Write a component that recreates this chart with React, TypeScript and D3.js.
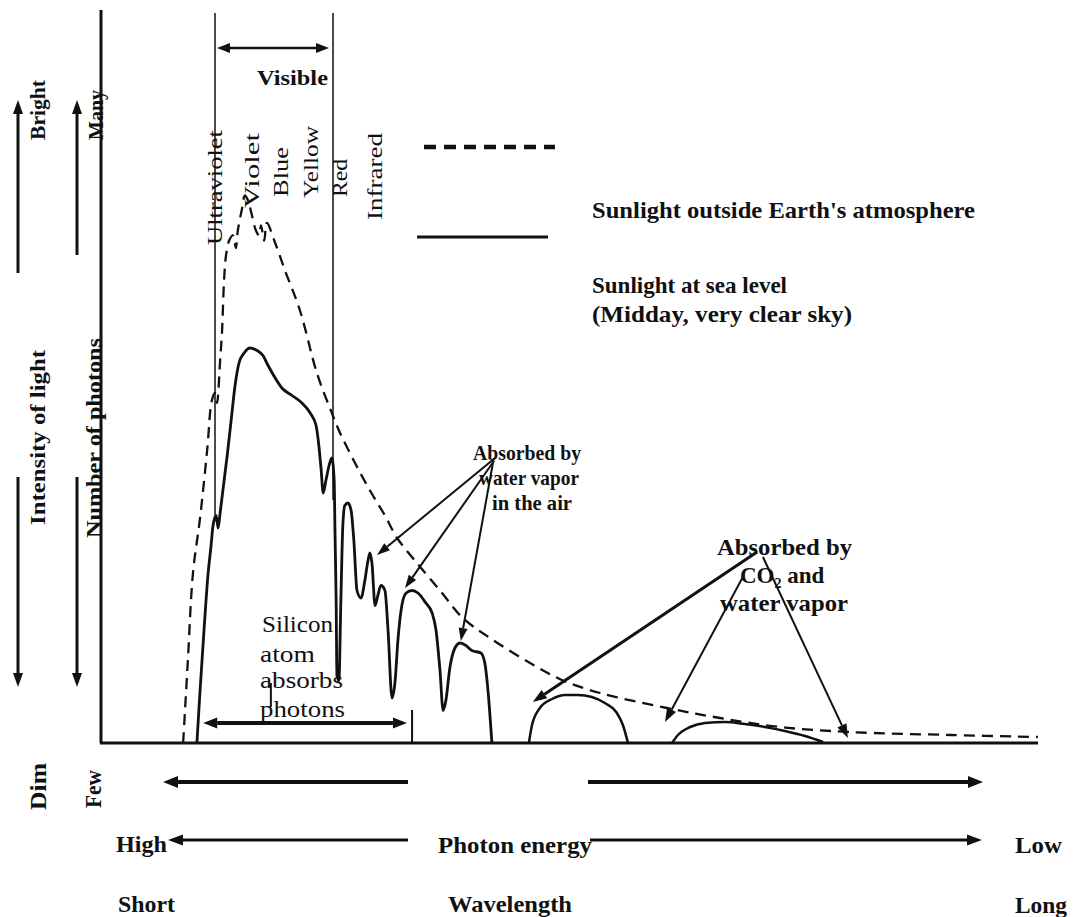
import React from 'react';
import * as d3 from 'd3';

// ---- Data (wavelength in nm, relative spectral intensity) ----
const outsideNm = [319, 331, 344, 362, 380, 392, 400, 405, 413, 418, 423, 428, 436, 446, 453, 458, 469, 476, 484, 494, 504, 512, 517, 525, 532, 553, 578, 616, 659, 692, 718, 756, 794, 832, 863, 908, 972, 1030, 1099, 1201, 1285, 1379, 1549, 1684, 1836, 2014, 2269, 2492];
const outsideVal = [0, 0.33, 0.68, 0.9, 1.17, 1.37, 1.40, 1.36, 1.53, 1.65, 1.85, 1.95, 2.01, 2.03, 1.98, 2.05, 2.14, 2.19, 2.17, 2.11, 2.05, 2.03, 2.07, 2.01, 2.08, 2.0, 1.89, 1.73, 1.48, 1.34, 1.24, 1.12, 1.01, 0.91, 0.82, 0.73, 0.61, 0.50, 0.42, 0.32, 0.25, 0.20, 0.14, 0.10, 0.064, 0.044, 0.032, 0.024];

const seaBand1Nm = [354, 362, 372, 382, 390, 395, 403, 408, 413, 420, 431, 441, 451, 461, 474, 489, 507, 522, 535, 553, 570, 596, 621, 642, 657, 664, 670, 675, 682, 690, 697, 703, 705, 708, 710, 715, 720, 725, 730, 738, 746, 753, 761, 771, 781, 789, 794, 799, 807, 814, 822, 832, 840, 850, 858, 865, 875, 886, 901, 916, 936, 952, 962, 972, 980, 987, 997, 1010, 1023, 1038, 1053, 1076, 1086, 1094, 1104];
const seaBand1Val = [0, 0.21, 0.45, 0.67, 0.79, 0.87, 0.91, 0.86, 0.92, 1.01, 1.15, 1.29, 1.43, 1.52, 1.56, 1.58, 1.57, 1.55, 1.51, 1.46, 1.42, 1.39, 1.36, 1.32, 1.27, 1.19, 1.09, 1.0, 1.05, 1.11, 1.14, 1.05, 0.85, 0.57, 0.27, 0.25, 0.57, 0.87, 0.95, 0.96, 0.93, 0.81, 0.61, 0.58, 0.65, 0.73, 0.76, 0.72, 0.55, 0.59, 0.63, 0.61, 0.45, 0.18, 0.25, 0.41, 0.55, 0.60, 0.61, 0.60, 0.56, 0.52, 0.45, 0.29, 0.13, 0.17, 0.30, 0.38, 0.40, 0.39, 0.37, 0.36, 0.32, 0.21, 0];
const seaBand2Nm = [1198, 1206, 1226, 1257, 1290, 1323, 1358, 1391, 1420, 1437, 1450];
const seaBand2Val = [0, 0.072, 0.14, 0.176, 0.192, 0.192, 0.184, 0.16, 0.124, 0.072, 0];
const seaBand3Nm = [1562, 1577, 1608, 1646, 1697, 1747, 1798, 1849, 1900, 1946];
const seaBand3Val = [0, 0.032, 0.064, 0.08, 0.084, 0.076, 0.064, 0.048, 0.028, 0.004];

// annotation arrows: [fromNm, fromVal, toNm, toVal]
const waterArrows = [
  [1112, 1.14, 812, 0.752],
  [1110, 1.13, 883, 0.62],
  [1107, 1.124, 1025, 0.408],
];
const co2Arrows = [
  [1778, 0.764, 1208, 0.164],
  [1742, 0.664, 1544, 0.084],
  [1793, 0.744, 2009, 0.02],
];
const visibleRange = [400, 700];
const siliconRange = [370, 888];
const bandLabels = ['Ultraviolet', 'Violet', 'Blue', 'Yellow', 'Red', 'Infrared'];

const FONT = "'Liberation Serif', 'Times New Roman', Times, serif";
const INK = '#111';

const x = d3.scaleLinear().domain([100, 2500]).range([97, 1041]);
const y = d3.scaleLinear().domain([0, 2.5]).range([743, 118]);

function head(x1: number, y1: number, x2: number, y2: number, len: number, w: number) {
  const a = Math.atan2(y2 - y1, x2 - x1);
  const bx = x2 - len * Math.cos(a);
  const by = y2 - len * Math.sin(a);
  const px = -Math.sin(a) * w / 2;
  const py = Math.cos(a) * w / 2;
  return { pts: `${x2},${y2} ${bx + px},${by + py} ${bx - px},${by - py}`, bx, by };
}

function Arrow({ x1, y1, x2, y2, sw = 2, len = 13, w = 9, both = false }: any) {
  const h = head(x1, y1, x2, y2, len, w);
  const h2 = both ? head(x2, y2, x1, y1, len, w) : null;
  return (
    <g>
      <line x1={h2 ? h2.bx : x1} y1={h2 ? h2.by : y1} x2={h.bx} y2={h.by} stroke={INK} strokeWidth={sw} />
      <polygon points={h.pts} fill={INK} />
      {h2 && <polygon points={h2.pts} fill={INK} />}
    </g>
  );
}

function T({ x: tx, y: ty, len, size = 21, bold = true, rot = false, children }: any) {
  return (
    <text
      x={rot ? 0 : tx}
      y={rot ? 0 : ty}
      transform={rot ? `translate(${tx},${ty}) rotate(-90)` : undefined}
      fontSize={size}
      fontWeight={bold ? 700 : 400}
      textLength={len}
      lengthAdjust="spacingAndGlyphs"
      fontFamily={FONT}
      fill={INK}
    >
      {children}
    </text>
  );
}

export default function App() {
  const dashedLine = d3.line<number>().x((d, i) => x(outsideNm[i])).y((d) => y(d)).curve(d3.curveCatmullRom.alpha(0.5));
  const mk = (nm: number[]) => d3.line<number>().x((d, i) => x(nm[i])).y((d) => y(d)).curve(d3.curveMonotoneX);

  const xv0 = x(visibleRange[0]);
  const xv1 = x(visibleRange[1]);

  return (
    <svg width={1076} height={917} style={{ position: 'absolute', left: 0, top: 0, background: '#fff' }}>
      <rect width={1076} height={917} fill="#fff" />

      {/* axes */}
      <line x1={101} y1={10} x2={101} y2={y(0)} stroke={INK} strokeWidth={3} />
      <line x1={100} y1={y(0)} x2={1038} y2={y(0)} stroke={INK} strokeWidth={3} />

      {/* visible boundaries */}
      <line x1={xv0} y1={13} x2={xv0} y2={515} stroke={INK} strokeWidth={1.5} />
      <line x1={xv1} y1={13} x2={xv1} y2={500} stroke={INK} strokeWidth={1.5} />
      <Arrow x1={xv0 + 2} y1={48} x2={xv1 - 4} y2={48} sw={2.5} len={13} w={10} both />
      <T x={257} y={85} len={71} size={22}>Visible</T>

      {/* band labels (rotated) */}
      <T x={222} y={245} len={115} size={21} bold={false} rot>{bandLabels[0]}</T>
      <T x={259} y={208} len={75} size={21} bold={false} rot>{bandLabels[1]}</T>
      <T x={288} y={197} len={50} size={21} bold={false} rot>{bandLabels[2]}</T>
      <T x={318} y={198} len={72} size={21} bold={false} rot>{bandLabels[3]}</T>
      <T x={347} y={197} len={38} size={21} bold={false} rot>{bandLabels[4]}</T>
      <T x={382} y={220} len={87} size={21} bold={false} rot>{bandLabels[5]}</T>

      {/* spectra */}
      <path d={dashedLine(outsideVal) || ''} fill="none" stroke={INK} strokeWidth={2.3} strokeDasharray="11,7" />
      <path d={mk(seaBand1Nm)(seaBand1Val) || ''} fill="none" stroke={INK} strokeWidth={2.8} strokeLinejoin="round" />
      <path d={mk(seaBand2Nm)(seaBand2Val) || ''} fill="none" stroke={INK} strokeWidth={2.5} />
      <path d={mk(seaBand3Nm)(seaBand3Val) || ''} fill="none" stroke={INK} strokeWidth={2.5} />

      {/* legend */}
      <line x1={424} y1={147} x2={555} y2={147} stroke={INK} strokeWidth={4.5} strokeDasharray="12,8" />
      <line x1={417} y1={237} x2={548} y2={237} stroke={INK} strokeWidth={3} />
      <T x={592} y={218} len={383} size={23}>Sunlight outside Earth's atmosphere</T>
      <T x={592} y={293} len={195} size={23}>Sunlight at sea level</T>
      <T x={592} y={322} len={260} size={23}>(Midday, very clear sky)</T>

      {/* water vapor annotation */}
      {waterArrows.map((a, i) => (
        <Arrow key={'w' + i} x1={x(a[0])} y1={y(a[1])} x2={x(a[2])} y2={y(a[3])} sw={2} len={13} w={9} />
      ))}
      <T x={473} y={460} len={108} size={22}>Absorbed by</T>
      <T x={479} y={485} len={100} size={22}>water vapor</T>
      <T x={492} y={510} len={80} size={22}>in the air</T>

      {/* CO2 annotation */}
      {co2Arrows.map((a, i) => (
        <Arrow key={'c' + i} x1={x(a[0])} y1={y(a[1])} x2={x(a[2])} y2={y(a[3])} sw={i === 0 ? 3 : 2} len={14} w={10} />
      ))}
      <T x={717} y={555} len={135} size={23}>Absorbed by</T>
      <text x={740} y={583} fontSize={23} fontWeight={700} fontFamily={FONT} fill={INK}>
        CO<tspan fontSize={14} dy={5}>2</tspan><tspan dy={-5}> and</tspan>
      </text>
      <T x={720} y={611} len={128} size={23}>water vapor</T>

      {/* silicon annotation */}
      <T x={262} y={632} len={71} size={23} bold={false}>Silicon</T>
      <T x={260} y={662} len={55} size={23} bold={false}>atom</T>
      <T x={260} y={688} len={83} size={23} bold={false}>absorbs</T>
      <T x={260} y={717} len={85} size={23} bold={false}>photons</T>
      <line x1={x(542)} y1={683} x2={x(542)} y2={707} stroke={INK} strokeWidth={2} />
      <Arrow x1={x(siliconRange[0])} y1={y(0.08)} x2={x(siliconRange[1])} y2={y(0.08)} sw={4} len={14} w={11} both />
      <line x1={x(901)} y1={710} x2={x(901)} y2={y(0)} stroke={INK} strokeWidth={2} />

      {/* left axis labels and arrows */}
      <Arrow x1={18} y1={273} x2={18} y2={100} sw={3} len={14} w={10} />
      <Arrow x1={77} y1={255} x2={77} y2={100} sw={3} len={14} w={10} />
      <Arrow x1={18} y1={477} x2={18} y2={687} sw={3} len={14} w={10} />
      <Arrow x1={77} y1={477} x2={77} y2={687} sw={3} len={14} w={10} />
      <T x={45} y={140} len={60} size={21} rot>Bright</T>
      <T x={103} y={140} len={50} size={21} rot>Many</T>
      <T x={45} y={525} len={175} size={21} rot>Intensity of light</T>
      <T x={101} y={538} len={200} size={21} rot>Number of photons</T>
      <T x={46} y={810} len={47} size={23} rot>Dim</T>
      <T x={101} y={808} len={38} size={23} rot>Few</T>

      {/* bottom arrows */}
      <Arrow x1={408} y1={782} x2={163} y2={782} sw={4} len={15} w={12} />
      <Arrow x1={588} y1={782} x2={983} y2={782} sw={4} len={15} w={12} />
      <Arrow x1={408} y1={840} x2={168} y2={840} sw={3} len={15} w={11} />
      <Arrow x1={590} y1={840} x2={982} y2={840} sw={3} len={15} w={11} />

      {/* bottom labels */}
      <T x={116} y={852} len={51} size={24}>High</T>
      <T x={438} y={853} len={154} size={24}>Photon energy</T>
      <T x={1015} y={853} len={47} size={24}>Low</T>
      <T x={118} y={912} len={57} size={24}>Short</T>
      <T x={448} y={912} len={124} size={24}>Wavelength</T>
      <T x={1015} y={913} len={52} size={24}>Long</T>
    </svg>
  );
}
